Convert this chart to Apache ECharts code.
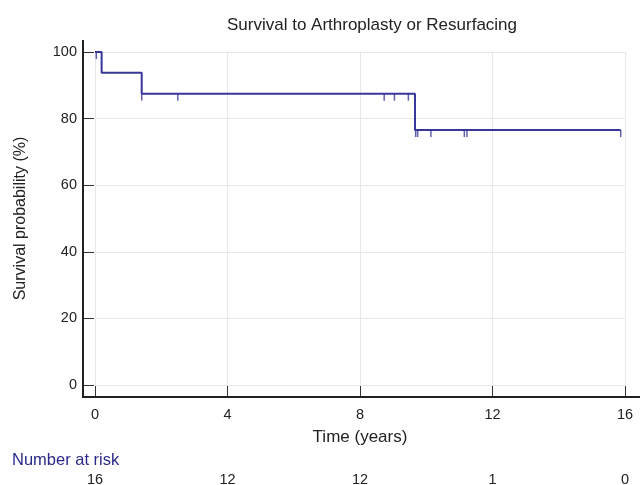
<!DOCTYPE html>
<html>
<head>
<meta charset="utf-8">
<script src="https://cdn.jsdelivr.net/npm/echarts@6/dist/echarts.min.js"></script>
<style>
html,body{margin:0;padding:0;background:#fff;}
#chart{width:640px;height:485px;}
</style>
</head>
<body>
<div id="chart"></div>
<script>
// Kaplan-Meier step points: time (years) and survival (%)
var stepTimes = [0, 0.2, 1.41, 9.66, 15.87];
var stepSurvival = [100, 93.75, 87.5, 76.56, 76.56];
// Censored observations
var censorTimes = [0.04, 1.41, 2.5, 8.73, 9.04, 9.46, 9.68, 9.74, 10.14, 11.15, 11.23, 15.87];
var censorSurvival = [100, 87.5, 87.5, 87.5, 87.5, 87.5, 76.56, 76.56, 76.56, 76.56, 76.56, 76.56];
// Number at risk table
var riskTimes = [0, 4, 8, 12, 16];
var riskCounts = [16, 12, 12, 1, 0];

var lineColor = '#37379a';
var font = 'Liberation Sans, Arial, sans-serif';

var kmData = stepTimes.map(function (t, i) { return [t, stepSurvival[i]]; });
var censorData = censorTimes.map(function (t, i) { return [t, censorSurvival[i]]; });
var riskMap = {};
riskTimes.forEach(function (t, i) { riskMap[t] = riskCounts[i]; });

var AX_OFF = 12;
var chart = echarts.init(document.getElementById('chart'), null, {renderer: 'canvas'});
var option = {
  animation: false,
  backgroundColor: '#fff',
  title: {
    text: 'Survival to Arthroplasty or Resurfacing',
    left: 367, top: 12, textAlign: 'center',
    textStyle: {fontFamily: font, fontSize: 17, fontWeight: 'normal', color: '#222'}
  },
  grid: {left: 95, right: 15, top: 52, bottom: 100, containLabel: false, outerBoundsMode: 'none'},
  xAxis: [{
    type: 'value', min: 0, max: 16, interval: 4, offset: AX_OFF,
    name: 'Time (years)', nameLocation: 'middle', nameGap: 32,
    nameTextStyle: {fontFamily: font, fontSize: 17, color: '#222'},
    axisLine: {onZero: false, lineStyle: {color: '#222', width: 2}},
    axisTick: {inside: true, length: 11, lineStyle: {color: '#333', width: 1}},
    axisLabel: {fontFamily: font, fontSize: 14.5, color: '#222', margin: 10},
    splitLine: {show: true, lineStyle: {color: '#e8e8ec', width: 1}}
  }, {
    type: 'value', min: 0, max: 16, interval: 4, position: 'bottom', offset: 87,
    axisLine: {show: false, onZero: false}, axisTick: {show: false}, splitLine: {show: false},
    axisLabel: {fontFamily: font, fontSize: 14.5, color: '#222', margin: 0,
      formatter: function (v) { return riskMap[v] !== undefined ? String(riskMap[v]) : ''; }}
  }],
  yAxis: {
    type: 'value', min: 0, max: 100, interval: 20, offset: AX_OFF,
    name: 'Survival probability (%)', nameLocation: 'middle', nameGap: 54, nameRotate: 90,
    nameTextStyle: {fontFamily: font, fontSize: 16, color: '#222'},
    axisLine: {show: true, onZero: false, lineStyle: {color: '#222', width: 2}},
    axisTick: {show: true, inside: true, length: 11, lineStyle: {color: '#333', width: 1}},
    axisLabel: {fontFamily: font, fontSize: 14.5, color: '#222', margin: 6},
    splitLine: {show: true, lineStyle: {color: '#e8e8ec', width: 1}}
  },
  series: [{
    type: 'line', step: 'end', data: kmData, showSymbol: false,
    lineStyle: {color: lineColor, width: 2}, z: 3
  }, {
    type: 'scatter', data: censorData,
    symbol: 'rect', symbolSize: [1.5, 7], symbolOffset: [0, 3.5],
    itemStyle: {color: lineColor}, z: 4
  }]
};
chart.setOption(option);

// extend axis lines beyond the plotting area like the original
var p0 = chart.convertToPixel({gridIndex: 0}, [0, 0]);
var p1 = chart.convertToPixel({gridIndex: 0}, [16, 100]);
var axX = p0[0] - AX_OFF, axY = p0[1] + AX_OFF;
chart.setOption({graphic: [{
  type: 'text', left: 12, top: 452,
  style: {text: 'Number at risk', fontFamily: font, fontSize: 16.5, fill: '#2a2a8a'}
}, {
  type: 'line', shape: {x1: axX, y1: p1[1] - 12, x2: axX, y2: axY + 1},
  style: {stroke: '#222', lineWidth: 2}, z: 10
}, {
  type: 'line', shape: {x1: axX - 1, y1: axY, x2: 640, y2: axY},
  style: {stroke: '#222', lineWidth: 2}, z: 10
}]});
</script>
</body>
</html>
